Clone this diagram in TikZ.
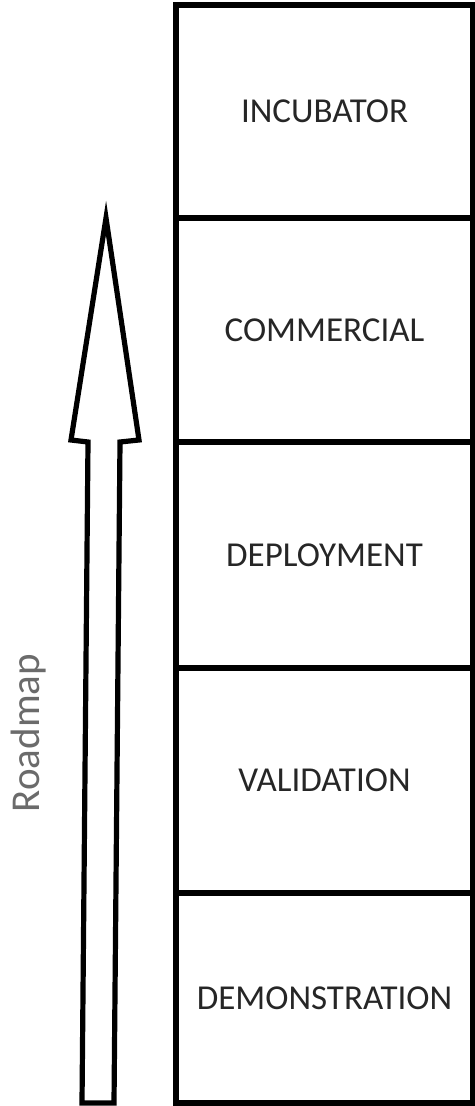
\documentclass[tikz,border=0pt]{standalone}
\usepackage{fontspec}
\setmainfont{Carlito}
\usetikzlibrary{positioning}
\tikzstyle{stage} = [rectangle, draw, line width=2.6pt, outer sep=0pt, minimum width=148.5pt, text centered, text=black!85, font=\fontsize{17.5}{20}\selectfont]
\tikzstyle{bigarrow} = [draw, line width=2.6pt, line join=miter, fill=white]

\begin{document}
\begin{tikzpicture}[x=0.5pt, y=-0.5pt]
   \useasboundingbox (0,0) rectangle (475,1106);
   % nodes
   \node[stage, minimum height=106.5pt, anchor=north west] (incub) at (176,5) {INCUBATOR};
   \node[stage, minimum height=112pt, below=0pt of incub] (comm) {COMMERCIAL};
   \node[stage, minimum height=113pt, below=0pt of comm] (deploy) {DEPLOYMENT};
   \node[stage, minimum height=112.5pt, below=0pt of deploy] (valid) {VALIDATION};
   \node[stage, minimum height=105pt, below=0pt of valid] (demo) {DEMONSTRATION};
   \node[rotate=90, text=black!58, font=\fontsize{20.5}{24}\selectfont] (road) at (29,733) {Roadmap};

   % arrow
   \draw[bigarrow] (82,1103) -- (88,442) -- (71,440) -- (106,218) -- (139,440) -- (120,442) -- (114,1103) -- cycle;
\end{tikzpicture}
\end{document}
